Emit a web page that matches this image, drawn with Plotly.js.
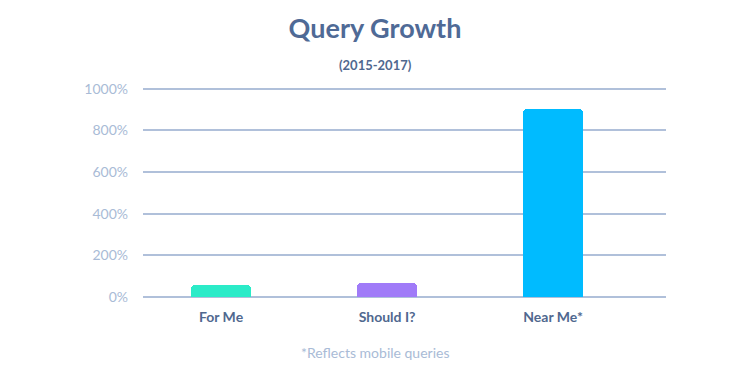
<!DOCTYPE html>
<html>
<head>
<meta charset="utf-8">
<script src="https://cdn.plot.ly/plotly-3.0.1.min.js"></script>
<style>html,body{margin:0;padding:0;background:#fff;}#chart{width:750px;height:376px;}</style>
</head>
<body>
<div id="chart"></div>
<script>
const categories = ["For Me", "Should I?", "Near Me*"];
const growthPct = [58, 66, 902];
const barColors = ["#2BEBC8", "#A07BF8", "#00BBFF"];
const yTicks = [0, 200, 400, 600, 800, 1000];
const yTickText = ["0%", "200%", "400%", "600%", "800%", "1000%"];

const trace = {
  type: "bar",
  x: [0, 1, 2],
  y: growthPct,
  marker: { color: barColors, cornerradius: 4 },
  width: 0.36,
  hoverinfo: "none"
};

const layout = {
  width: 750, height: 376,
  margin: { l: 143, r: 84, t: 87, b: 79 },
  paper_bgcolor: "#fff", plot_bgcolor: "#fff",
  font: { family: "Lato, 'Open Sans', sans-serif" },
  title: {
    text: "<b>Query Growth</b>",
    font: { size: 27, color: "#4F6A96", family: "Lato, sans-serif" },
    x: 0.5, xref: "container", xanchor: "center",
    y: 0.925, yref: "container", yanchor: "middle"
  },
  xaxis: {
    range: [-0.47, 2.68],
    tickmode: "array", tickvals: [0, 1, 2], ticktext: categories,
    showgrid: false, zeroline: false, showline: false,
    tickfont: { size: 14, color: "#50688F", family: "Lato, sans-serif", weight: "bold" },
    ticks: "", ticklabelstandoff: 10
  },
  yaxis: {
    range: [0, 1008],
    tickmode: "array", tickvals: yTicks, ticktext: yTickText,
    showgrid: true, gridcolor: "#B0C0DA", gridwidth: 2,
    zeroline: true, zerolinecolor: "#B0C0DA", zerolinewidth: 2,
    showline: false, ticks: "",
    tickfont: { size: 14, color: "#A9BBD6", family: "Lato, sans-serif" },
    ticklabelstandoff: 14
  },
  annotations: [
    { text: "<b>(2015-2017)</b>", xref: "paper", yref: "paper", x: 0.5, y: 1.0, xanchor: "center", yanchor: "middle",
      yshift: 22, xshift: 375 - (143 + 523/2), showarrow: false, font: { size: 13, color: "#50688F" } },
    { text: "*Reflects mobile queries", xref: "paper", yref: "paper", x: 0.5, y: 0, xanchor: "center", yanchor: "middle",
      yshift: -55, xshift: 375 - (143 + 523/2), showarrow: false, font: { size: 14, color: "#A9BBD6" } }
  ],
  showlegend: false,
  bargap: 0
};

Plotly.newPlot("chart", [trace], layout, { displayModeBar: false, staticPlot: true });
</script>
</body>
</html>
